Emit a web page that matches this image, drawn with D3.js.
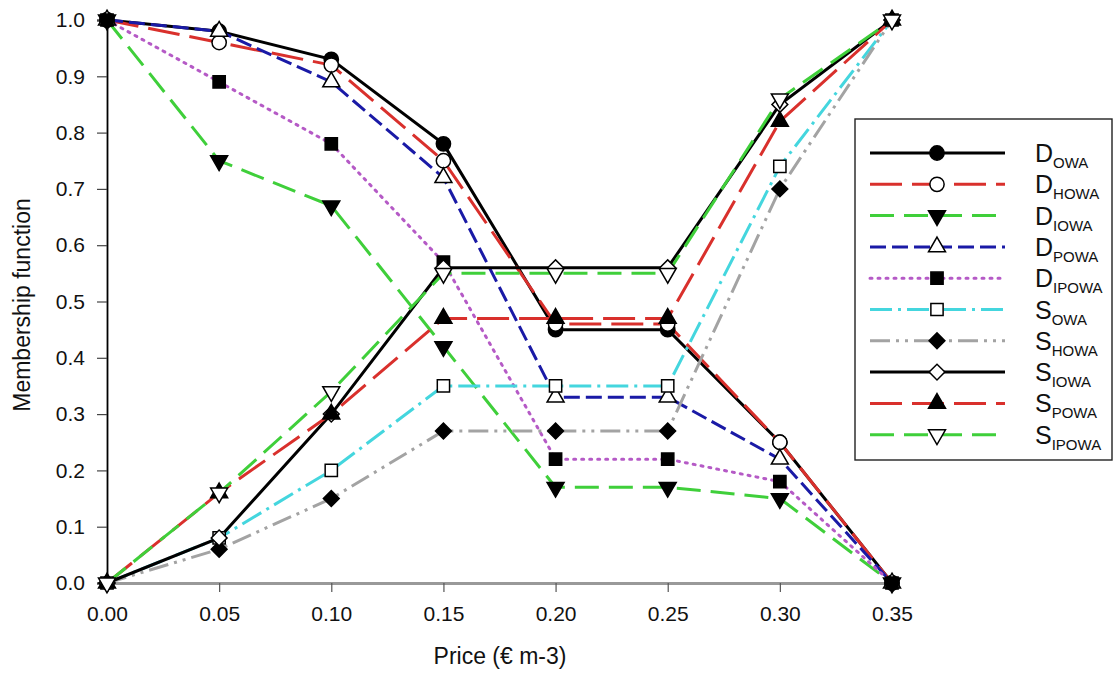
<!DOCTYPE html>
<html>
<head>
<meta charset="utf-8">
<script src="https://cdn.jsdelivr.net/npm/d3@7"></script>
<style>
    body { margin: 0; background: #fff; }
    text { font-family: "Liberation Sans", Arial, sans-serif; fill: #111; }
</style>
</head>
<body>
<svg id="chart" width="1115" height="678"></svg>
<script>
// x values (price)
const prices = [0, 0.05, 0.10, 0.15, 0.20, 0.25, 0.30, 0.35];
const xTicks = [0, 0.05, 0.10, 0.15, 0.20, 0.25, 0.30, 0.35];
const yTicks = [0, 0.1, 0.2, 0.3, 0.4, 0.5, 0.6, 0.7, 0.8, 0.9, 1.0];

// series values
const dOWA   = [1.0, 0.98, 0.93, 0.78, 0.45, 0.45, 0.25, 0.0];
const dHOWA  = [1.0, 0.96, 0.92, 0.75, 0.46, 0.46, 0.25, 0.0];
const dIOWA  = [1.0, 0.75, 0.67, 0.42, 0.17, 0.17, 0.15, 0.0];
const dPOWA  = [1.0, 0.98, 0.89, 0.72, 0.33, 0.33, 0.22, 0.0];
const dIPOWA = [1.0, 0.89, 0.78, 0.57, 0.22, 0.22, 0.18, 0.0];
const sOWA   = [0.0, 0.08, 0.20, 0.35, 0.35, 0.35, 0.74, 1.0];
const sHOWA  = [0.0, 0.06, 0.15, 0.27, 0.27, 0.27, 0.70, 1.0];
const sIOWA  = [0.0, 0.08, 0.30, 0.56, 0.56, 0.56, 0.85, 1.0];
const sPOWA  = [0.0, 0.16, 0.30, 0.47, 0.47, 0.47, 0.82, 1.0];
const sIPOWA = [0.0, 0.16, 0.34, 0.55, 0.55, 0.55, 0.86, 1.0];

const seriesNames = [
    ["D", "OWA"], ["D", "HOWA"], ["D", "IOWA"], ["D", "POWA"], ["D", "IPOWA"],
    ["S", "OWA"], ["S", "HOWA"], ["S", "IOWA"], ["S", "POWA"], ["S", "IPOWA"]
];
const seriesValues = [dOWA, dHOWA, dIOWA, dPOWA, dIPOWA, sOWA, sHOWA, sIOWA, sPOWA, sIPOWA];

// line and marker styles
const styles = [
    { color: "#000000", dash: null,              symbol: d3.symbolCircle,   fill: "#000", rot: 0 },
    { color: "#d9302c", dash: "32,10",           symbol: d3.symbolCircle,   fill: "#fff", rot: 0 },
    { color: "#3fcf3a", dash: "24,10",           symbol: d3.symbolTriangle, fill: "#000", rot: 180 },
    { color: "#1a1aa6", dash: "16,6",            symbol: d3.symbolTriangle, fill: "#fff", rot: 0 },
    { color: "#b55ac6", dash: "2,6",             symbol: d3.symbolSquare,   fill: "#000", rot: 0 },
    { color: "#44d6de", dash: "22,6,3,6",        symbol: d3.symbolSquare,   fill: "#fff", rot: 0 },
    { color: "#a3a3a3", dash: "20,6,3,6,3,6",    symbol: d3.symbolSquare,   fill: "#000", rot: 45 },
    { color: "#000000", dash: null,              symbol: d3.symbolSquare,   fill: "#fff", rot: 45 },
    { color: "#d9302c", dash: "32,10",           symbol: d3.symbolTriangle, fill: "#000", rot: 0 },
    { color: "#3fcf3a", dash: "24,10",           symbol: d3.symbolTriangle, fill: "#fff", rot: 180 }
];
const symbolSizes = { circle: 160, triangle: 125, square: 150, diamond: 125 };

const svg = d3.select("#chart");
const x = d3.scaleLinear().domain([0, 0.35]).range([107, 892]);
const y = d3.scaleLinear().domain([0, 1]).range([583, 20]);

function symbolSize(st) {
    if (st.symbol === d3.symbolCircle) return symbolSizes.circle;
    if (st.symbol === d3.symbolTriangle) return symbolSizes.triangle;
    return st.rot ? symbolSizes.diamond : symbolSizes.square;
}

// axes
const yAxis = svg.append("g")
    .attr("transform", "translate(107,0)")
    .call(d3.axisLeft(y).tickValues(yTicks).tickFormat(d3.format(".1f")).tickSizeOuter(0).tickSize(10).tickPadding(12));
yAxis.select(".domain").attr("stroke", "#000").attr("stroke-width", 1.8);
yAxis.selectAll(".tick line").attr("stroke", "#444").attr("stroke-width", 1.2);
yAxis.selectAll("text").style("font-size", "21px").style("font-family", "Liberation Sans, Arial, sans-serif").attr("fill", "#111");

const xAxis = svg.append("g")
    .attr("transform", "translate(0,583)")
    .call(d3.axisBottom(x).tickValues(xTicks).tickFormat(d3.format(".2f")).tickSizeOuter(0).tickSize(9).tickPadding(14));
xAxis.select(".domain").attr("stroke", "#999").attr("stroke-width", 2.8);
xAxis.selectAll(".tick line").attr("stroke", "#555").attr("stroke-width", 1.2);
xAxis.selectAll("text").style("font-size", "21px").style("font-family", "Liberation Sans, Arial, sans-serif").attr("fill", "#111");

svg.append("text")
    .attr("x", 500).attr("y", 664)
    .attr("text-anchor", "middle")
    .style("font-size", "23px")
    .text("Price (€ m-3)");

svg.append("text")
    .attr("transform", "translate(30,305) rotate(-90)")
    .attr("text-anchor", "middle")
    .style("font-size", "23px")
    .text("Membership function");

// lines
const line = d3.line()
    .x((d, i) => x(prices[i]))
    .y(d => y(d));

seriesValues.forEach((vals, k) => {
    const st = styles[k];
    svg.append("path")
        .datum(vals)
        .attr("d", line)
        .attr("fill", "none")
        .attr("stroke", st.color)
        .attr("stroke-width", 3)
        .attr("stroke-dasharray", st.dash)
        .attr("stroke-linecap", st.dash === "2,6" ? "round" : "butt");
});

// markers
seriesValues.forEach((vals, k) => {
    const st = styles[k];
    svg.append("g").selectAll("path")
        .data(vals)
        .join("path")
        .attr("d", d3.symbol().type(st.symbol).size(symbolSize(st)))
        .attr("transform", (d, i) => `translate(${x(prices[i])},${y(d)}) rotate(${st.rot})`)
        .attr("fill", st.fill)
        .attr("stroke", "#000")
        .attr("stroke-width", 1.5);
});

// legend
const legend = svg.append("g");
legend.append("rect")
    .attr("x", 855).attr("y", 119)
    .attr("width", 257).attr("height", 341)
    .attr("fill", "#fff")
    .attr("stroke", "#222")
    .attr("stroke-width", 1.4);

seriesNames.forEach((name, k) => {
    const st = styles[k];
    const ly = 153 + k * 31.3;
    legend.append("line")
        .attr("x1", 870).attr("x2", 1005)
        .attr("y1", ly).attr("y2", ly)
        .attr("stroke", st.color)
        .attr("stroke-width", 3)
        .attr("stroke-dasharray", st.dash)
        .attr("stroke-linecap", st.dash === "2,6" ? "round" : "butt");
    legend.append("path")
        .attr("d", d3.symbol().type(st.symbol).size(symbolSize(st)))
        .attr("transform", `translate(937,${ly}) rotate(${st.rot})`)
        .attr("fill", st.fill)
        .attr("stroke", "#000")
        .attr("stroke-width", 1.5);
    const t = legend.append("text")
        .attr("x", 1035).attr("y", ly + 9)
        .style("font-size", "25px");
    t.append("tspan").text(name[0]);
    t.append("tspan").attr("dy", 6).style("font-size", "15px").text(name[1]);
});
</script>
</body>
</html>
